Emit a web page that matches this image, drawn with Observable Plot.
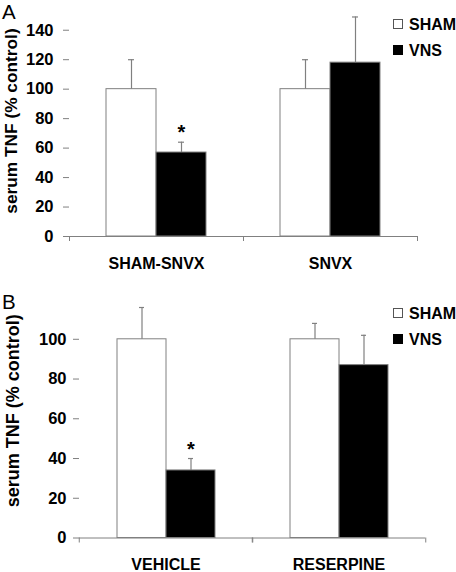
<!DOCTYPE html>
<html>
<head>
<meta charset="utf-8">
<script src="https://cdn.jsdelivr.net/npm/d3@7"></script>
<script src="https://cdn.jsdelivr.net/npm/@observablehq/plot@0.6"></script>
<style>
  html, body { margin: 0; padding: 0; background: #fff; }
  body { font-family: "Liberation Sans", Arial, sans-serif; }
  #wrap { position: relative; width: 456px; height: 572px; overflow: hidden; background: #fff; }
  .panel { position: absolute; left: 0; width: 456px; height: 286px; }
  .letter { position: absolute; left: 2px; font-size: 20.5px; line-height: 1; color: #000; }
  .leg { position: absolute; left: 393px; font-size: 16px; font-weight: bold; line-height: 1; color: #000; white-space: nowrap; }
  .box { display: inline-block; width: 10px; height: 10px; box-sizing: border-box; margin-right: 6px; position: relative; top: -1px; }
  .box.sham { background: #fff; border: 1px solid #555; }
  .box.vns { background: #000; border: 1px solid #000; }
</style>
</head>
<body>
<div id="wrap">
  <div class="panel" id="panelA" style="top:0px"></div>
  <div class="panel" id="panelB" style="top:286px"></div>
  <div class="letter" style="top:1.5px">A</div>
  <div class="letter" style="top:292px">B</div>
  <div class="leg" style="top:17px"><span class="box sham"></span>SHAM</div>
  <div class="leg" style="top:43px"><span class="box vns"></span>VNS</div>
  <div class="leg" style="top:306px"><span class="box sham"></span>SHAM</div>
  <div class="leg" style="top:332px"><span class="box vns"></span>VNS</div>
</div>
<script>
// ---- data ----
const seriesNames = ["SHAM", "VNS"];
const yLabel = "serum TNF (% control)";

// Panel A
const groupsA = ["SHAM-SNVX", "SNVX"];
const shamA = [100, 100];
const shamErrA = [20, 20];
const vnsA = [57, 118];
const vnsErrA = [7, 31];
const sigA = [true, false];
const yTicksA = [0, 20, 40, 60, 80, 100, 120, 140];
const yMaxA = 150;

// Panel B
const groupsB = ["VEHICLE", "RESERPINE"];
const shamB = [100, 100];
const shamErrB = [16, 8];
const vnsB = [34, 87];
const vnsErrB = [6, 15];
const sigB = [true, false];
const yTicksB = [0, 20, 40, 60, 80, 100];
const yMaxB = 116;

function rowsFor(groups, sham, shamErr, vns, vnsErr, sig) {
  return groups.flatMap((g, i) => [
    {group: g, series: "SHAM", value: sham[i], upper: sham[i] + shamErr[i], sig: false},
    {group: g, series: "VNS", value: vns[i], upper: vns[i] + vnsErr[i], sig: sig[i]}
  ]);
}

const GRAY = "#808080";
const FONT = "Liberation Sans, Arial, sans-serif";

function panel(o) {
  const rows = rowsFor(o.groups, o.sham, o.shamErr, o.vns, o.vnsErr, o.sig);
  const W = 456, H = 286;
  const facetW = (W - o.mL - o.mR) / o.groups.length;
  return Plot.plot({
    width: W, height: H,
    marginLeft: o.mL, marginRight: o.mR, marginTop: o.mT, marginBottom: o.mB,
    style: {fontFamily: FONT, fontSize: "16px", fontWeight: "bold", color: "#000", background: "#fff", overflow: "visible"},
    fx: {domain: o.groups, padding: 0},
    x: {domain: seriesNames, paddingInner: 0, paddingOuter: o.padOuter, axis: null},
    y: {domain: [0, o.yMax], axis: null},
    color: {domain: seriesNames, range: ["#ffffff", "#000000"]},
    marks: [
      Plot.ruleY([0], {stroke: GRAY}),
      Plot.barY(rows, {fx: "group", x: "series", y: "value", fill: "series", stroke: GRAY, strokeWidth: 1}),
      Plot.ruleX(rows, {fx: "group", x: "series", y1: "value", y2: "upper", stroke: GRAY, strokeWidth: 1.2}),
      Plot.tickY(rows, {fx: "group", x: "series", y: "upper", stroke: GRAY, strokeWidth: 1.2, insetLeft: 22, insetRight: 22}),
      Plot.text(rows.filter(d => d.sig), {fx: "group", x: "series", y: "upper", text: () => "*", fontSize: 20, fontWeight: "bold", lineAnchor: "bottom", dy: -3, fill: "#000"}),
      Plot.axisY({ticks: o.yTicks, tickSize: 6, tickPadding: o.tickPad, stroke: GRAY, fill: "#000", line: true, label: null, fontSize: 16.5, fontWeight: "bold"}),
      Plot.axisFx({anchor: "bottom", tickSize: 5, tickFormat: () => "", stroke: GRAY, label: null, dx: -facetW / 2}),
      Plot.axisFx({anchor: "bottom", tickSize: 5, tickFormat: () => "", stroke: GRAY, label: null, dx: facetW / 2}),
      Plot.axisFx({anchor: "bottom", tickSize: 0, tickPadding: o.catPad, label: null, fontSize: 16, fontWeight: "bold", fill: "#000"}),
      Plot.text([o.groups[0]], {fx: d => d, text: () => yLabel, frameAnchor: "left", rotate: -90, textAnchor: "middle", lineAnchor: "middle", dx: o.labelDx, dy: o.labelDy, fontSize: o.labelSize, fontWeight: "bold", fill: "#000"})
    ]
  });
}

document.getElementById("panelA").append(panel({
  groups: groupsA, sham: shamA, shamErr: shamErrA, vns: vnsA, vnsErr: vnsErrA, sig: sigA,
  yTicks: yTicksA, yMax: yMaxA,
  mL: 69, mR: 39, mT: 15, mB: 50, padOuter: 0.72, tickPad: 10, catPad: 21,
  labelDx: -58.5, labelDy: -5, labelSize: 17.3
}));

document.getElementById("panelB").append(panel({
  groups: groupsB, sham: shamB, shamErr: shamErrB, vns: vnsB, vnsErr: vnsErrB, sig: sigB,
  yTicks: yTicksB, yMax: yMaxB,
  mL: 78, mR: 31, mT: 21, mB: 34.5, padOuter: 0.745, tickPad: 7, catPad: 21,
  labelDx: -66, labelDy: -12, labelSize: 18
}));
</script>
</body>
</html>
